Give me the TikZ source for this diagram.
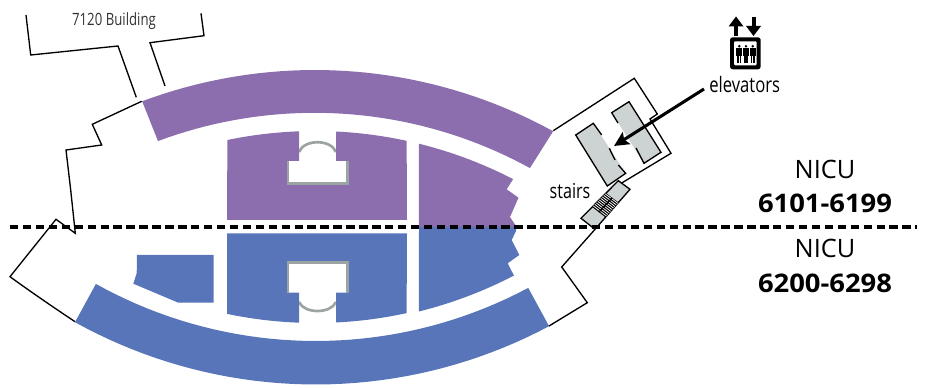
\documentclass[tikz,border=0pt]{standalone}
\usepackage{fontspec}
\setmainfont{Open Sans}
\newfontfamily\condfont[FakeStretch=0.78]{Open Sans}
\newfontfamily\widefont[FakeStretch=1.07]{Open Sans}
\usetikzlibrary{calc,arrows.meta}
\definecolor{plum}{HTML}{8C6EAE}
\definecolor{steel}{HTML}{5875BA}
\definecolor{pale}{HTML}{CDD3D3}
\definecolor{frame}{HTML}{9CA3A3}
\tikzset{
  wall/.style={draw=black,line width=1pt,line join=miter},
  framed/.style={draw=frame,line width=2pt},
  lbl/.style={inner sep=0pt,font=\condfont},
  big/.style={inner sep=0pt,font=\fontsize{19}{19}\selectfont},
  bigb/.style={inner sep=0pt,font=\widefont\fontsize{19.2}{19}\selectfont\bfseries},
  ar/.style={domain=#1,samples=40,variable=\a},
}
\begin{document}
\begin{tikzpicture}[x=0.75pt,y=-0.75pt]
\useasboundingbox (0,0) rectangle (929,388);
% outer bands
\fill[plum] plot[ar=-110.5:-61.15] ({315+493.6*cos(\a)},{563.6+493.6*sin(\a)})
  -- plot[ar=-61.24:-110.46] ({314.5+447.8*cos(\a)},{560.6+447.8*sin(\a)}) -- cycle;
\fill[steel] plot[ar=119:61.96] ({315.7+496.5*cos(\a)},{-112+496.5*sin(\a)})
  -- plot[ar=61.95:119.1] ({315.7+452*cos(\a)},{-111+452*sin(\a)}) -- cycle;
% upper rooms
\draw[framed] (299,152) .. controls (304,139) and (331,139) .. (336,152);
\fill[plum] (227,220) -- plot[ar=-101.7:-92.1] ({315+432*cos(\a)},{563+432*sin(\a)})
  -- (299,161) -- (287,161) -- (287,185) -- (348.3,185) -- (348.3,161) -- (336,161)
  -- plot[ar=-87.2:-77.75] ({315+432*cos(\a)},{563+432*sin(\a)}) -- (407,220) -- cycle;
\draw[framed] (288,161) -- (288,183.8) -- (347.2,183.8) -- (347.2,161);
\fill[plum] (419,227) -- plot[ar=-76.1:-62.7] ({315+432*cos(\a)},{563+432*sin(\a)})
  -- (506.7,189.3) -- (518.5,197.7) -- (510,217) -- (516,226) -- (516,227) -- cycle;
% lower rooms
\draw[framed] (299,302) .. controls (304,314) and (331,314) .. (336,302);
\fill[steel] (227,233.5) -- (407,233.5) -- plot[ar=77.7:87.2] ({315+430*cos(\a)},{-107+430*sin(\a)})
  -- (336,292.7) -- (349,292.7) -- (349,261.3) -- (287,261.3) -- (287,292.7) -- (299,292.7)
  -- plot[ar=92.1:101.8] ({315+430*cos(\a)},{-107+430*sin(\a)}) -- cycle;
\draw[framed] (288,292.7) -- (288,262.7) -- (347.6,262.7) -- (347.6,292.7);
\fill[steel] (419,227) -- (516,227) -- (516,231) -- (511.7,240) -- (519.3,255) -- (507.7,263.3) -- (514,275.7)
  -- plot[ar=62.5:76.05] ({315+431.2*cos(\a)},{-107+431.2*sin(\a)}) -- cycle;
\fill[steel] (137,255) -- (213.7,255) -- (213.7,302.7) -- (178.3,302.7) -- (133.3,283.7) -- (136.7,273.3) -- cycle;
% building outline
\draw[wall] (26,15) -- (30.7,55) -- (118,46) -- (136.3,97.3);
\draw[wall] (201,13.3) -- (204,35.7) -- (150,42.7) -- (165,86);
\draw[wall] (141.7,101.3) -- (92.3,124.3) -- (101.7,145) -- (66,150) -- (70.7,190) -- (75.3,233.3) -- (56,219.3) -- (10,276.7)
  .. controls (31,292) and (53,307) .. (75,321.7);
\draw[wall] (549,326) -- (587.3,302.7) -- (561.7,267) -- (595,229.3);
\draw[wall] (553.3,130.7) -- (634.3,78.3) -- (657.3,114) -- (650,119) -- (671,153.3) -- (620,184);
% elevators
\fill[pale] (575.7,135) -- (593.3,123.3) -- (625.7,173.3) -- (607.3,186) -- cycle;
\fill[pale] (611.7,112.7) -- (629,101.7) -- (661,152.3) -- (644,163.3) -- cycle;
\draw[wall] (601.7,135) -- (593.3,123.3) -- (575.7,135) -- (607.3,186) -- (625.7,173.3) -- (618.3,165);
\draw[wall] (609.3,148.3) -- (615,160);
\draw[wall] (618,123) -- (611.7,112.7) -- (629,101.7) -- (661,152.3) -- (644,163.3) -- (636,148);
% stairs
\coordinate (C1) at (618.3,180.7);
\coordinate (C2) at (630,189.3);
\coordinate (C3) at (595,229.3);
\coordinate (C4) at (581,218.3);
\filldraw[wall,fill=pale] (C1) -- (C2) -- (C3) -- (C4) -- cycle;
\fill[black] ($(C4)!0.3!(C1)$) -- ($(C4)!0.67!(C1)$) -- ($(C3)!0.67!(C2)$) -- ($(C3)!0.3!(C2)$) -- cycle;
\foreach \t in {0.33,0.37,0.41,0.45,0.49,0.53,0.57,0.61,0.65}{
  \draw[white,line width=0.55pt] ($(C4)!\t!(C1)$) -- ($(C3)!\t!(C2)$);
}
\coordinate (M1) at ($(C4)!0.5!(C3)$);
\coordinate (M2) at ($(C1)!0.5!(C2)$);
\draw[black,line width=1pt] ($(M1)!0.3!(M2)$) -- ($(M1)!0.67!(M2)$);
% arrow
\coordinate (arrowstart) at (704,89);
\coordinate (arrowend) at (614,146);
\draw[line width=2.3pt,-{Stealth[length=11pt,width=10.5pt,inset=2pt]}] (arrowstart) -- (arrowend);
% elevator icon
\draw[line width=3pt] (736,36) -- (736,22);
\fill (736,16.5) -- (743.5,26.5) -- (728.5,26.5) -- cycle;
\draw[line width=3pt] (753.5,17) -- (753.5,30);
\fill (753.5,36) -- (761,26) -- (746,26) -- cycle;
\fill[rounded corners=2pt] (730,37.3) rectangle (760.7,69.3);
\fill[white,rounded corners=0.8pt] (734,41.3) rectangle (756.7,65.3);
\foreach \px in {739.3,746,752.7}{
  \fill (\px,46.2) circle[radius=1.4];
  \fill (\px-3,48.5) rectangle (\px+3,56.5);
  \fill (\px-2,56.5) rectangle (\px-0.3,63.5);
  \fill (\px+0.3,56.5) rectangle (\px+2,63.5);
}
% dashed divider
\coordinate (divL) at (10,227);
\coordinate (divR) at (917,227);
\draw[black,line width=3pt,dash pattern=on 6.3pt off 3.4pt] (divL) -- (divR);
% labels
\node[lbl,text=black!80,font=\condfont\fontsize{12.7}{13}\selectfont] (bldg) at (114,21) {7120 Building};
\node[lbl,font=\condfont\fontsize{16}{17}\selectfont] (elev) at (744.7,85) {elevators};
\node[lbl,font=\condfont\fontsize{15.5}{16}\selectfont] (stairs) at (570,191) {stairs};
\node[big] (n1) at (825,169) {NICU};
\node[bigb] (r1) at (825,203) {6101-6199};
\node[big] (n2) at (825,248.5) {NICU};
\node[bigb] (r2) at (825,283) {6200-6298};
\end{tikzpicture}
\end{document}
